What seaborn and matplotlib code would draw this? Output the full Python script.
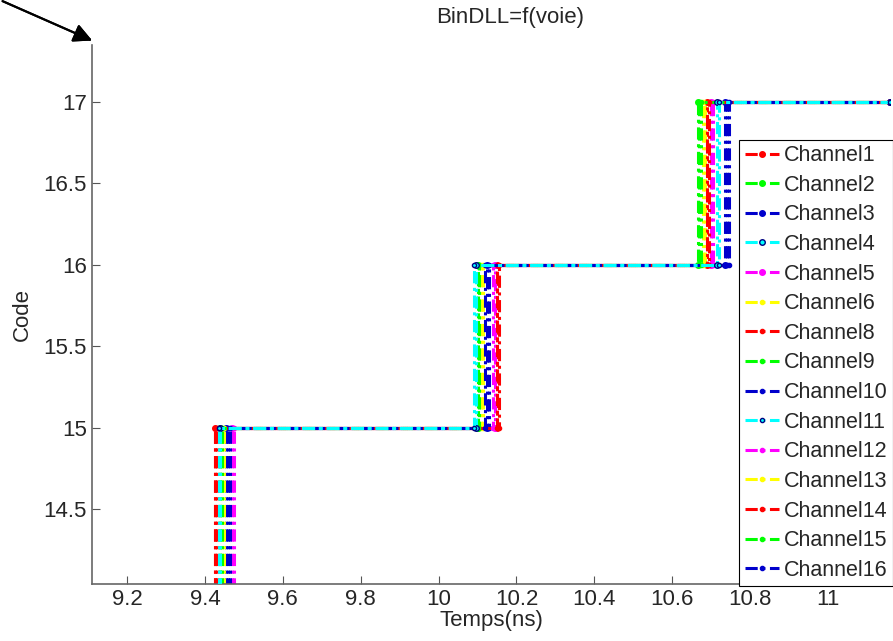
import numpy as np
import pandas as pd
import seaborn as sns
import matplotlib.pyplot as plt
from matplotlib.ticker import FormatStrFormatter

# channel names (no Channel7 in the measurement)
CHANNELS = ["Channel1", "Channel2", "Channel3", "Channel4", "Channel5", "Channel6",
            "Channel8", "Channel9", "Channel10", "Channel11", "Channel12", "Channel13",
            "Channel14", "Channel15", "Channel16"]

# time (ns) where the code switches 14->15, 15->16, 16->17
STEP_15 = [9.425, 9.440, 9.455, 9.440, 9.470, 9.445, 9.425, 9.440, 9.460, 9.435, 9.475, 9.450, 9.430, 9.445, 9.465]
STEP_16 = [10.150, 10.100, 10.125, 10.095, 10.145, 10.110, 10.155, 10.105, 10.130, 10.090, 10.140, 10.115, 10.150, 10.100, 10.120]
STEP_17 = [10.690, 10.665, 10.735, 10.715, 10.700, 10.680, 10.695, 10.670, 10.740, 10.720, 10.705, 10.685, 10.690, 10.675, 10.745]

CODES = [14, 15, 16, 17]
T_END = 11.16

COLORS = ["#ff0000", "#00ff00", "#0000cc", "#00ffff", "#ff00ff", "#ffff00"]

sns.set_style("ticks")
plt.rcParams["font.family"] = ["Liberation Sans", "DejaVu Sans"]
plt.rcParams["xtick.direction"] = "in"
plt.rcParams["ytick.direction"] = "in"

fig = plt.figure(figsize=(8.93, 6.41), dpi=100)
ax = fig.add_axes([0.103, 0.089, 0.894, 0.841])

for i, name in enumerate(CHANNELS):
    t = [STEP_15[i], STEP_16[i], STEP_17[i]]
    # stair corners: vertical at each switch time, horizontal between
    xs = [t[0], t[0], t[1], t[1], t[2], t[2], T_END]
    ys = [CODES[0], CODES[1], CODES[1], CODES[2], CODES[2], CODES[3], CODES[3]]
    df = pd.DataFrame({"temps": xs, "code": ys})
    col = COLORS[i % 6]
    marker = "o" if i < 5 else "."
    ms = 4 if i < 5 else 6
    z = 3 if col == "#00ffff" else 2
    sns.lineplot(data=df, x="temps", y="code", sort=False, estimator=None,
                 color=col, linestyle=(0, (4, 1.5, 1, 1.5)), linewidth=2.2,
                 marker=marker, markersize=ms, markeredgewidth=1,
                 markeredgecolor="#000080" if col == "#00ffff" else col,
                 markevery=0.018, label=name, zorder=z, ax=ax)

ax.set_xlim(9.11, 11.16)
ax.set_ylim(14.04, 17.35)
ax.set_xticks(np.arange(9.2, 11.01, 0.2))
ax.set_yticks([14.5, 15, 15.5, 16, 16.5, 17])
ax.xaxis.set_major_formatter(FormatStrFormatter("%g"))
ax.yaxis.set_major_formatter(FormatStrFormatter("%g"))
ax.tick_params(labelsize=16, length=6, color="#555555")
for s in ["top", "right"]:
    ax.spines[s].set_visible(False)
for s in ["left", "bottom"]:
    ax.spines[s].set_color("#666666")
    ax.spines[s].set_linewidth(1.2)

ax.set_xlabel("Temps(ns)", fontsize=16, labelpad=0)
ax.set_ylabel("Code", fontsize=16, labelpad=8)
fig.text(0.571, 0.972, "BinDLL=f(voie)", ha="center", va="center", fontsize=16)

leg = ax.legend(loc="lower right", bbox_to_anchor=(1.003, -0.004), borderaxespad=0,
                fontsize=15.5, handlelength=1.6, handletextpad=0.2, labelspacing=0.40,
                borderpad=0.25, fancybox=False, framealpha=1, edgecolor="black")
leg.set_zorder(5)
leg.get_frame().set_linewidth(0.8)

# arrow pointing at the top of the y axis
fig.add_artist(plt.annotate("", xy=(0.106, 0.935), xycoords="figure fraction",
                            xytext=(0.0, 1.0), textcoords="figure fraction",
                            arrowprops=dict(arrowstyle="-|>", color="black", lw=1.5,
                                            mutation_scale=28)))

fig.savefig("out.png", dpi=100)
